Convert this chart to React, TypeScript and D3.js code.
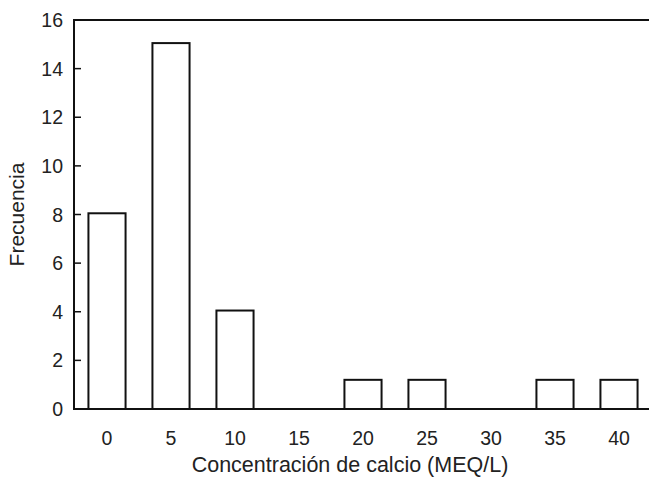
import { useEffect, useRef } from 'react';
import * as d3 from 'd3';

const categories = ['0', '5', '10', '15', '20', '25', '30', '35', '40'];
const frequencies = [8.05, 15.05, 4.05, 0, 1.2, 1.2, 0, 1.2, 1.2];
const yTicks = [0, 2, 4, 6, 8, 10, 12, 14, 16];

const width = 649;
const height = 477;
const margin = { top: 20, right: -2, bottom: 68, left: 74 };
const font = '"Liberation Sans", Arial, Helvetica, sans-serif';

export default function App() {
  const svgRef = useRef<SVGSVGElement>(null);

  useEffect(() => {
    if (!svgRef.current) return;
    const svg = d3.select(svgRef.current);
    svg.selectAll('*').remove();

    const x = d3
      .scaleBand<string>()
      .domain(categories)
      .range([margin.left + 1, width - margin.right])
      .paddingInner(0.42)
      .paddingOuter(0.21);

    const y = d3
      .scaleLinear()
      .domain([0, 16])
      .range([height - margin.bottom, margin.top]);

    const x0 = margin.left;
    const y0 = y(0);

    // ── Bars ──
    svg
      .selectAll('rect.bar')
      .data(frequencies)
      .enter()
      .append('rect')
      .attr('class', 'bar')
      .attr('x', (_, i) => x(categories[i])!)
      .attr('y', (d) => y(d))
      .attr('width', x.bandwidth())
      .attr('height', (d) => y0 - y(d))
      .attr('fill', '#fff')
      .attr('stroke', '#111')
      .attr('stroke-width', 2);

    // ── Frame ──
    svg
      .append('path')
      .attr('d', `M${width + 2},${margin.top}H${x0}V${y0}H${width + 2}`)
      .attr('fill', 'none')
      .attr('stroke', '#111')
      .attr('stroke-width', 2);

    // ── Y ticks (inward) ──
    const yt = svg.append('g');
    yt.selectAll('line')
      .data(yTicks)
      .enter()
      .append('line')
      .attr('x1', x0)
      .attr('x2', x0 + 7)
      .attr('y1', (d) => y(d))
      .attr('y2', (d) => y(d))
      .attr('stroke', '#111')
      .attr('stroke-width', 1.5);

    yt.selectAll('text')
      .data(yTicks)
      .enter()
      .append('text')
      .attr('x', x0 - 11)
      .attr('y', (d) => y(d))
      .attr('dy', '0.36em')
      .attr('text-anchor', 'end')
      .attr('font-family', font)
      .attr('font-size', '19.5px')
      .attr('fill', '#222')
      .text((d) => d);

    // ── X tick labels ──
    svg
      .append('g')
      .selectAll('text')
      .data(categories)
      .enter()
      .append('text')
      .attr('x', (d) => x(d)! + x.bandwidth() / 2)
      .attr('y', 445)
      .attr('text-anchor', 'middle')
      .attr('font-family', font)
      .attr('font-size', '19.5px')
      .attr('fill', '#222')
      .text((d) => d);

    // ── Axis titles ──
    svg
      .append('text')
      .attr('x', 350)
      .attr('y', 472)
      .attr('text-anchor', 'middle')
      .attr('font-family', font)
      .attr('font-size', '21.5px')
      .attr('fill', '#222')
      .text('Concentración de calcio (MEQ/L)');

    svg
      .append('text')
      .attr('transform', `translate(24,${(margin.top + y0) / 2}) rotate(-90)`)
      .attr('text-anchor', 'middle')
      .attr('font-family', font)
      .attr('font-size', '21px')
      .attr('fill', '#222')
      .text('Frecuencia');
  }, []);

  return (
    <svg
      ref={svgRef}
      width={width}
      height={height}
      style={{ position: 'absolute', left: 0, top: 0, background: '#fff' }}
    />
  );
}
